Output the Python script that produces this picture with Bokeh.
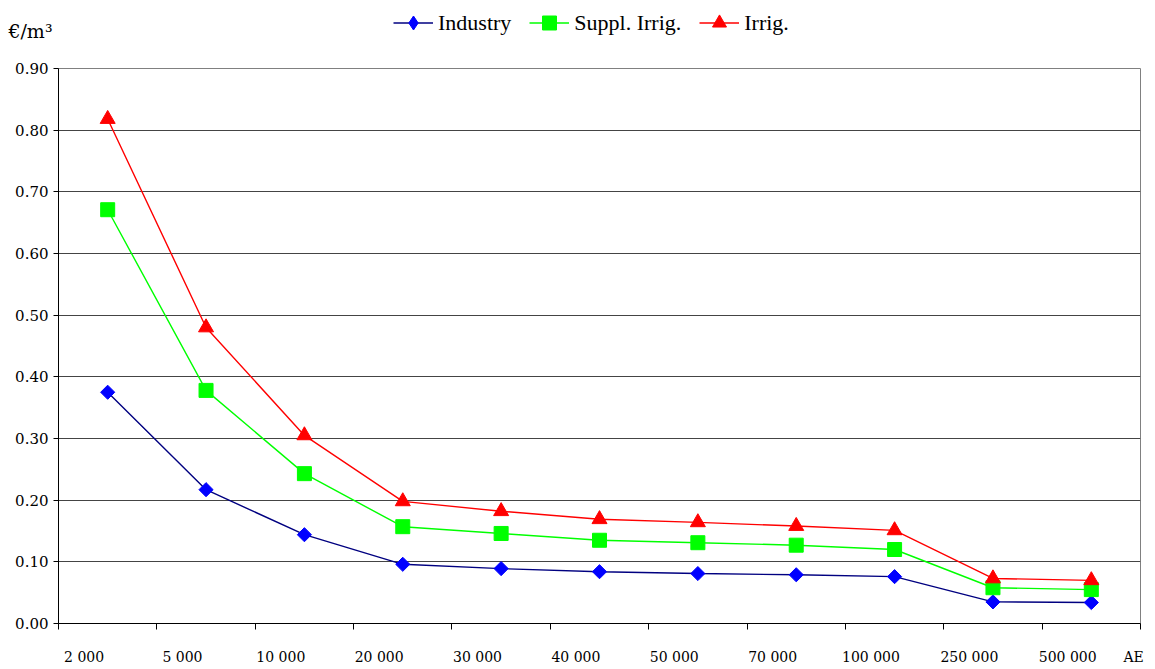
import math
from bokeh.plotting import figure
from bokeh.layouts import column
from bokeh.models import (Range1d, LinearAxis, FixedTicker, Legend, LegendItem,
                          ColumnDataSource, Grid, NumeralTickFormatter)
from bokeh.embed import file_html
from bokeh.resources import INLINE

# Plant size classes (population equivalents) and unit costs in €/m3
categories = ["2 000", "5 000", "10 000", "20 000", "30 000", "40 000",
              "50 000", "70 000", "100 000", "250 000", "500 000"]
industry = [0.375, 0.217, 0.144, 0.096, 0.089, 0.084, 0.081, 0.079, 0.076, 0.035, 0.034]
suppl_irrig = [0.671, 0.378, 0.243, 0.157, 0.146, 0.135, 0.131, 0.127, 0.120, 0.058, 0.055]
irrig = [0.818, 0.480, 0.305, 0.198, 0.182, 0.169, 0.164, 0.158, 0.151, 0.073, 0.070]
y_ticks = [0.0, 0.1, 0.2, 0.3, 0.4, 0.5, 0.6, 0.7, 0.8, 0.9]
series_names = ["Industry", "Suppl. Irrig.", "Irrig."]

LEGEND_FONT = "'Liberation Serif'"
AXIS_FONT = "DejaVu Serif"

n = len(categories)
xpos = [i + 0.5 for i in range(n)]

styles = [
    dict(line="#000080", fill="#0000FF", marker="square", size=10, angle=math.pi / 4,
         leg_marker="diamond"),
    dict(line="#00FF00", fill="#00FF00", marker="square", size=14, angle=0,
         leg_marker="square"),
    dict(line="#FF0000", fill="#FF0000", marker="triangle", size=15, angle=0,
         leg_marker="triangle"),
]

# ---------- main chart ----------
p = figure(width=1155, height=609, output_backend="svg", toolbar_location=None,
           x_range=Range1d(0, n), y_range=Range1d(0, 0.9),
           x_axis_type=None, y_axis_type=None,
           min_border_left=58, min_border_right=15, min_border_top=8,
           min_border_bottom=46)
p.background_fill_color = "white"
p.border_fill_color = "white"
p.outline_line_color = "#808080"

yax = LinearAxis(ticker=FixedTicker(ticks=y_ticks),
                 formatter=NumeralTickFormatter(format="0.00"),
                 major_label_text_font=AXIS_FONT, major_label_text_font_style="normal",
                 major_label_text_font_size="15px", major_label_text_color="black")
yax.axis_line_color = "black"
yax.major_tick_line_color = "black"
yax.major_tick_in = 0
yax.major_tick_out = 5
yax.minor_tick_line_color = None
yax.major_label_standoff = 5
p.add_layout(yax, "left")

# tick marks at the category boundaries
bounds = list(range(n + 1))
xax = LinearAxis(ticker=FixedTicker(ticks=bounds),
                 major_label_overrides={b: "" for b in bounds})
xax.axis_line_color = "black"
xax.major_tick_line_color = "black"
xax.major_tick_in = 0
xax.major_tick_out = 6
xax.minor_tick_line_color = None
xax.major_label_standoff = 0
xax.major_label_text_font_size = "1px"
p.add_layout(xax, "below")

# category labels plus the unit at the right end
label_pos = [i + 0.26 for i in range(n)]
unit_pos = n - 0.07
overrides = {pos: c for pos, c in zip(label_pos, categories)}
overrides[unit_pos] = "AE"
xlab = LinearAxis(ticker=FixedTicker(ticks=label_pos + [unit_pos]),
                  major_label_overrides=overrides,
                  major_label_text_font=AXIS_FONT, major_label_text_font_size="14px",
                  major_label_text_color="black")
xlab.axis_line_color = None
xlab.major_tick_line_color = None
xlab.major_tick_in = 0
xlab.major_tick_out = 0
xlab.minor_tick_line_color = None
xlab.major_label_standoff = 19
p.add_layout(xlab, "below")

p.add_layout(Grid(dimension=1, ticker=yax.ticker, grid_line_color="#444444",
                  grid_line_width=1))

src = ColumnDataSource(dict(x=xpos, ind=industry, sup=suppl_irrig, irr=irrig))
for col, st in zip(["ind", "sup", "irr"], styles):
    p.line("x", col, source=src, line_color=st["line"], line_width=1.4)
    p.scatter("x", col, source=src, marker=st["marker"], size=st["size"],
              angle=st["angle"], fill_color=st["fill"], line_color=st["fill"])

# ---------- header strip: unit and legend ----------
h = figure(width=1155, height=60, output_backend="svg", toolbar_location=None,
           x_range=Range1d(0, 10), y_range=Range1d(0, 10),
           x_axis_type=None, y_axis_type=None,
           min_border_left=0, min_border_right=0, min_border_top=0,
           min_border_bottom=0)
h.outline_line_color = None
h.background_fill_color = "white"
h.border_fill_color = "white"

unit_axis = LinearAxis(ticker=FixedTicker(ticks=[]), axis_label="€/m³")
unit_axis.axis_line_color = None
unit_axis.major_tick_line_color = None
unit_axis.minor_tick_line_color = None
unit_axis.axis_label_orientation = "horizontal"
unit_axis.axis_label_standoff = 6
unit_axis.axis_label_text_font = AXIS_FONT
unit_axis.axis_label_text_font_style = "normal"
unit_axis.axis_label_text_font_size = "19px"
unit_axis.axis_label_text_color = "black"
h.add_layout(unit_axis, "left")

items = []
for name, st in zip(series_names, styles):
    lr = h.line(x=[-50, -40], y=[-50, -50], line_color=st["line"], line_width=1.4)
    mr = h.scatter(x=[-50], y=[-50], marker=st["leg_marker"], size=14,
                   fill_color=st["fill"], line_color=st["fill"])
    items.append(LegendItem(label=name, renderers=[lr, mr]))

legend = Legend(items=items, orientation="horizontal", location=(335, 20),
                padding=0, margin=0, spacing=18, label_standoff=5,
                glyph_width=40, glyph_height=35,
                label_text_font=LEGEND_FONT, label_text_font_size="22px",
                label_text_color="black",
                background_fill_alpha=0, border_line_color=None)
h.add_layout(legend, "center")

layout = column(h, p, spacing=0)
open("out.html", "w").write(file_html(layout, INLINE))
